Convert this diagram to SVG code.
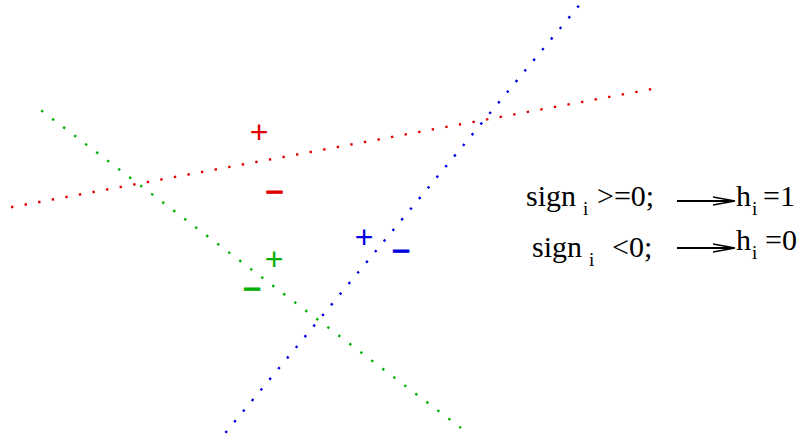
<svg xmlns="http://www.w3.org/2000/svg" width="804" height="442" viewBox="0 0 804 442">
<style>
.dot{fill:none;stroke-width:2.4;stroke-dasharray:2.4 11.4;stroke-linecap:butt}
.sg{font-family:"Liberation Sans",Arial,sans-serif;font-size:32px;text-anchor:middle}
.mn{stroke-width:0.9}
.t{font-family:"Liberation Serif","Times New Roman",serif;font-size:30px;fill:#000}
.s{font-family:"Liberation Serif","Times New Roman",serif;font-size:19px;fill:#000}
.arr{fill:none;stroke:#000;stroke-width:2}
.ah{fill:none;stroke:#000;stroke-width:1.3}
</style>
<rect width="804" height="442" fill="#fff"/>
<g id="lines">
<line id="red-line" class="dot" stroke="#e00000" x1="11" y1="207.2" x2="652" y2="89"/>
<line id="green-line" class="dot" stroke="#00b000" x1="41.2" y1="110.4" x2="461" y2="428"/>
<line id="blue-line" class="dot" stroke="#0000e0" x1="225.4" y1="432.8" x2="579" y2="5.5"/>
</g>
<g id="signs">
<text class="sg" fill="#e00000" x="259" y="143.4">+</text>
<text class="sg mn" fill="#e00000" stroke="#e00000" x="274.5" y="203.4">−</text>
<text class="sg" fill="#00b000" x="274" y="270.4">+</text>
<text class="sg mn" fill="#00b000" stroke="#00b000" x="252" y="300.4">−</text>
<text class="sg" fill="#0000e0" x="364" y="248.4">+</text>
<text class="sg mn" fill="#0000e0" stroke="#0000e0" x="401" y="262.4">−</text>
</g>
<g id="rule1">
<text class="t" x="526" y="206">sign</text>
<text class="s" x="583" y="215">i</text>
<text class="t" x="597" y="206">&gt;=0;</text>
<line class="arr" x1="677" y1="201" x2="733" y2="201"/>
<polyline class="ah" points="713,197 735,201 713,205"/>
<text class="t" x="736" y="206">h</text>
<text class="s" x="752" y="215">i</text>
<text class="t" x="763" y="206">=1</text>
</g>
<g id="rule2">
<text class="t" x="532" y="257">sign</text>
<text class="s" x="589" y="266">i</text>
<text class="t" x="612" y="257">&lt;0;</text>
<line class="arr" x1="677" y1="248" x2="733" y2="248"/>
<polyline class="ah" points="713,244 735,248 713,252"/>
<text class="t" x="736" y="250">h</text>
<text class="s" x="752" y="259">i</text>
<text class="t" x="765" y="250">=0</text>
</g>
</svg>
